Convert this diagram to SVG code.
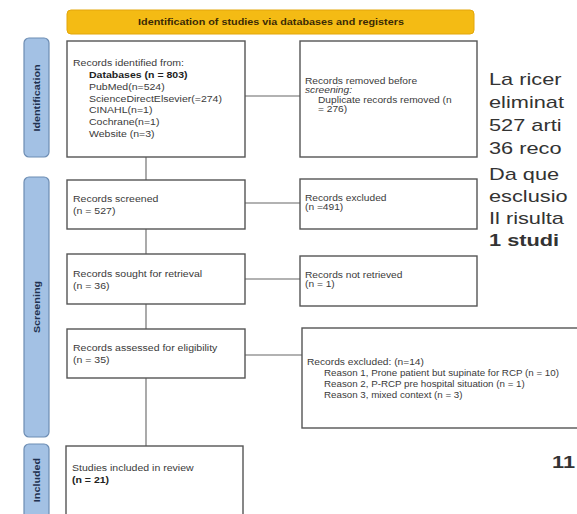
<svg xmlns="http://www.w3.org/2000/svg" width="577" height="514" viewBox="0 0 577 514">
<style>
.box{fill:#fff;stroke:#555;stroke-width:1.4}
.lbl{fill:#a3c1e4;stroke:#6d8db3;stroke-width:1.2}
.t{font-family:"Liberation Sans",Arial,sans-serif;font-size:9px;fill:#3a3a3a}
.ts{font-family:"Liberation Sans",Arial,sans-serif;font-size:8.5px;fill:#3a3a3a}
.b{font-weight:bold;fill:#222}
.lt{font-family:"Liberation Sans",Arial,sans-serif;font-size:9px;font-weight:bold;fill:#1f3150}
.p{font-family:"Liberation Sans",Arial,sans-serif;font-size:17px;fill:#333}
.c{stroke:#666;stroke-width:1.1;fill:none}
</style>
<rect width="577" height="514" fill="#fff"/>
<g id="header">
<rect x="67" y="10" width="407" height="24" rx="4" fill="#f4bb14" stroke="#e3a60a" stroke-width="1"/>
<text transform="matrix(1.2 0 0 1 271 25)" text-anchor="middle" font-family="Liberation Sans,Arial,sans-serif" font-size="9" font-weight="bold" fill="#3b2a05">Identification of studies via databases and registers</text>
</g>
<g id="label-identification">
<rect class="lbl" x="24" y="38" width="25" height="119" rx="5"/>
<text class="lt" transform="translate(39.5 98) rotate(-90) scale(1.2 1)" text-anchor="middle">Identification</text>
</g>
<g id="label-screening">
<rect class="lbl" x="24" y="177" width="25" height="260" rx="5"/>
<text class="lt" transform="translate(39.5 307) rotate(-90) scale(1.2 1)" text-anchor="middle">Screening</text>
</g>
<g id="label-included">
<rect class="lbl" x="24" y="444" width="25" height="80" rx="5"/>
<text class="lt" transform="translate(39.5 480) rotate(-90) scale(1.2 1)" text-anchor="middle">Included</text>
</g>
<g id="connectors">
<path class="c" d="M245 96H300M245 203H300M245 279H300M245 355H302M146 157V180M146 229V254M146 304V329M146 378V446"/>
</g>
<g id="identified">
<rect class="box" x="67" y="41" width="178" height="116"/>
<text class="t" transform="matrix(1.17 0 0 1 73 66)">Records identified from:</text>
<text class="t b" transform="matrix(1.17 0 0 1 89 78)">Databases (n = 803)</text>
<text class="t" transform="matrix(1.17 0 0 1 89 90)">PubMed(n=524)</text>
<text class="t" transform="matrix(1.17 0 0 1 89 102)">ScienceDirectElsevier(=274)</text>
<text class="t" transform="matrix(1.17 0 0 1 89 113)">CINAHL(n=1)</text>
<text class="t" transform="matrix(1.17 0 0 1 89 125)">Cochrane(n=1)</text>
<text class="t" transform="matrix(1.17 0 0 1 89 137)">Website (n=3)</text>
</g>
<g id="removed">
<rect class="box" x="300" y="41" width="177" height="116"/>
<text class="ts" transform="matrix(1.2 0 0 1 305 84)">Records removed before</text>
<text class="ts" transform="matrix(1.2 0 0 1 305 93)" font-style="italic">screening:</text>
<text class="ts" transform="matrix(1.2 0 0 1 318 103)">Duplicate records removed (n</text>
<text class="ts" transform="matrix(1.2 0 0 1 318 112)">= 276)</text>
</g>
<g id="screened">
<rect class="box" x="67" y="180" width="178" height="49"/>
<text class="t" transform="matrix(1.17 0 0 1 73 202)">Records screened</text>
<text class="t" transform="matrix(1.17 0 0 1 73 214)">(n = 527)</text>
</g>
<g id="excluded">
<rect class="box" x="300" y="179" width="177" height="50"/>
<text class="ts" transform="matrix(1.2 0 0 1 305 201)">Records excluded</text>
<text class="ts" transform="matrix(1.2 0 0 1 305 210)">(n =491)</text>
</g>
<g id="sought">
<rect class="box" x="67" y="254" width="178" height="50"/>
<text class="t" transform="matrix(1.17 0 0 1 73 277)">Records sought for retrieval</text>
<text class="t" transform="matrix(1.17 0 0 1 73 289)">(n = 36)</text>
</g>
<g id="notretrieved">
<rect class="box" x="300" y="256" width="177" height="50"/>
<text class="ts" transform="matrix(1.2 0 0 1 305 278)">Records not retrieved</text>
<text class="ts" transform="matrix(1.2 0 0 1 305 287)">(n = 1)</text>
</g>
<g id="assessed">
<rect class="box" x="67" y="329" width="178" height="49"/>
<text class="t" transform="matrix(1.17 0 0 1 73 351)">Records assessed for eligibility</text>
<text class="t" transform="matrix(1.17 0 0 1 73 363)">(n = 35)</text>
</g>
<g id="excluded2">
<rect class="box" x="302" y="328" width="290" height="100"/>
<text class="ts" transform="matrix(1.2 0 0 1 307 365)">Records excluded: (n=14)</text>
<text class="ts" transform="matrix(1.15 0 0 1 324 376)">Reason 1, Prone patient but supinate for RCP (n = 10)</text>
<text class="ts" transform="matrix(1.15 0 0 1 324 387)">Reason 2, P-RCP pre hospital situation (n = 1)</text>
<text class="ts" transform="matrix(1.15 0 0 1 324 398)">Reason 3, mixed context (n = 3)</text>
</g>
<g id="included">
<rect class="box" x="66" y="446" width="177" height="80"/>
<text class="t" transform="matrix(1.17 0 0 1 72 471)">Studies included in review</text>
<text class="t b" transform="matrix(1.17 0 0 1 72 483)">(n = 21)</text>
</g>
<g id="paragraph">
<text class="p" transform="matrix(1.28 0 0 1 489 85)">La  ricer</text>
<text class="p" transform="matrix(1.28 0 0 1 489 108)">eliminat</text>
<text class="p" transform="matrix(1.28 0 0 1 489 131)">527 arti</text>
<text class="p" transform="matrix(1.28 0 0 1 489 154)">36 reco</text>
<text class="p" transform="matrix(1.28 0 0 1 489 180)">Da  que</text>
<text class="p" transform="matrix(1.28 0 0 1 489 202)">esclusio</text>
<text class="p" transform="matrix(1.28 0 0 1 489 224)">Il risulta</text>
<text class="p" transform="matrix(1.28 0 0 1 489 246)" font-weight="bold">1 studi</text>
<text class="p" transform="matrix(1.28 0 0 1 552 468)" font-weight="bold">11</text>
</g>
</svg>
